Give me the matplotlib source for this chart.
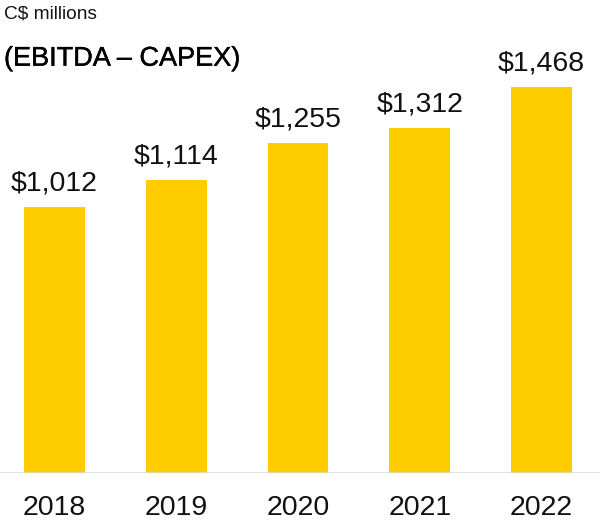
import matplotlib
matplotlib.use("Agg")
import matplotlib.pyplot as plt
import matplotlib.patheffects as pe

# data (C$ millions, EBITDA - CAPEX)
years = ["2018", "2019", "2020", "2021", "2022"]
values = [1012, 1114, 1255, 1312, 1468]
value_labels = ["$1,012", "$1,114", "$1,255", "$1,312", "$1,468"]

BAR_COLOR = "#FFCC00"
plt.rcParams["font.family"] = ["Liberation Sans", "DejaVu Sans"]

fig = plt.figure(figsize=(6.0, 5.2), dpi=100)
ax = fig.add_axes([0.0, 47 / 520, 1.0, 473 / 520])

xs = list(range(len(years)))
ax.bar(xs, values, width=0.5, color=BAR_COLOR, zorder=2)
ax.axhline(0, color="#D9D9D9", lw=1.8, zorder=3)

for x, v, lab in zip(xs, values, value_labels):
    ax.annotate(lab, xy=(x, v), xytext=(0, 11.8), textcoords="offset points",
                ha="center", va="baseline", fontsize=20.5, color="#111111")

ax.set_xlim(-0.4476, 4.4805)
ax.set_ylim(0, 1799)
ax.set_xticks(xs)
ax.set_xticklabels(years, fontsize=20.5, color="#111111")
ax.tick_params(axis="x", length=0, pad=15.5)
ax.set_yticks([])
for s in ax.spines.values():
    s.set_visible(False)

fig.text(4 / 600, 1 - 18.3 / 520, "C$ millions", fontsize=13.8, va="baseline", ha="left", color="#111111")
fig.text(4 / 600, 1 - 65.7 / 520, "(EBITDA \u2013 CAPEX)", fontsize=19.5, va="baseline", ha="left", color="#000000",
         path_effects=[pe.withStroke(linewidth=0.3, foreground="#000000")])

fig.savefig("out.png", dpi=100)
